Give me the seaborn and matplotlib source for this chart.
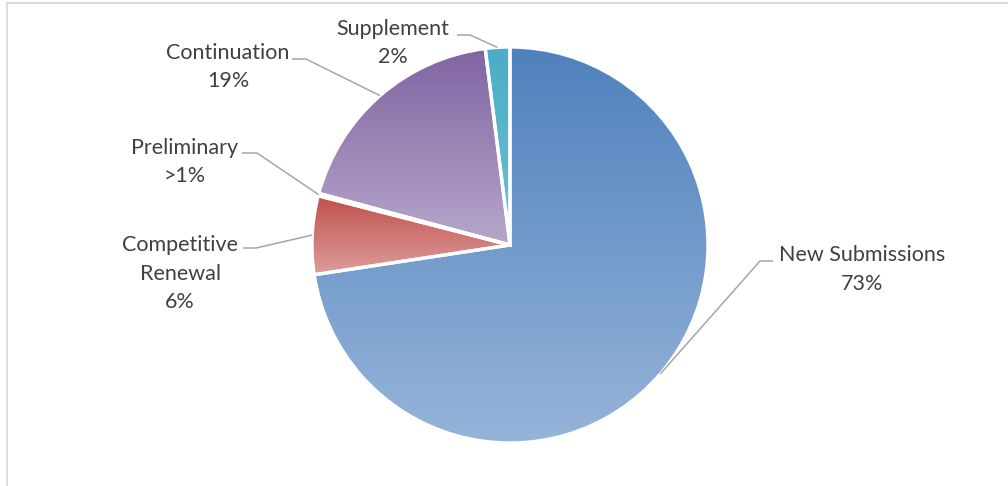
import numpy as np
import matplotlib
matplotlib.use("Agg")
import matplotlib.pyplot as plt
import seaborn as sns
from matplotlib.colors import to_rgb
from matplotlib.lines import Line2D

# ---------------- data ----------------
categories = ["New Submissions", "Competitive Renewal", "Preliminary", "Continuation", "Supplement"]
values = [72.6, 6.4, 0.2, 18.8, 2.0]
label_lines = [["New Submissions", "73%"],
               ["Competitive", "Renewal", "6%"],
               ["Preliminary", ">1%"],
               ["Continuation", "19%"],
               ["Supplement", "2%"]]
top_colors = ["#4F81BD", "#C0504D", "#9BBB59", "#8064A2", "#4BACC6"]
bottom_colors = ["#96B4D9", "#DE9E9C", "#C3D69B", "#B6A7CA", "#6CC0D5"]

# ---------------- layout (pixels, y down) ----------------
W, H = 1008, 486
CX, CY, R = 510, 245, 198
# first-line baseline position of each label (x centre, y baseline)
label_pos = [(862, 261), (180, 251), (185, 154), (228, 59), (393, 35)]
line_step = 28.5
# leader elbow + end points (pixels)
leader_pts = [[(760, 261), (773, 261)],
              [(256, 248), (243, 248)],
              [(257, 153), (242, 153)],
              [(306, 59), (292, 59)],
              [(470, 35), (457, 35)]]

sns.set_theme(style="white")
plt.rcParams['font.family'] = ['Lato', 'DejaVu Sans']

fig = plt.figure(figsize=(W / 100, H / 100), dpi=100)
fig.patch.set_facecolor("white")
ax = fig.add_axes([0, 0, 1, 1])


def fy(y):
    return H - y


wedges, _ = ax.pie(values, startangle=90, counterclock=False,
                   center=(CX, fy(CY)), radius=R, frame=True,
                   wedgeprops=dict(edgecolor="white", linewidth=2.4))

for w, c_top, c_bot in zip(wedges, top_colors, bottom_colors):
    ang = np.radians(np.linspace(w.theta1, w.theta2, 200))
    xs = np.concatenate([[CX], CX + R * np.cos(ang)])
    ys = np.concatenate([[fy(CY)], fy(CY) + R * np.sin(ang)])
    t = np.linspace(0, 1, 256)[:, None, None]
    img = (1 - t) * np.array(to_rgb(c_top))[None, None, :] + t * np.array(to_rgb(c_bot))[None, None, :]
    im = ax.imshow(img, extent=(xs.min(), xs.max(), ys.min(), ys.max()),
                   origin="upper", aspect="auto", interpolation="bilinear", zorder=1)
    im.set_clip_path(w)
    w.set_facecolor("none")
    w.set_zorder(2)

line_col = "#A6A6A6"
for w, pts in zip(wedges, leader_pts):
    mid = np.radians((w.theta1 + w.theta2) / 2)
    sx, sy = CX + R * np.cos(mid), fy(CY) + R * np.sin(mid)
    xs = [sx] + [p[0] for p in pts]
    ys = [sy] + [fy(p[1]) for p in pts]
    ax.plot(xs, ys, color=line_col, lw=1.1, zorder=3, solid_capstyle="butt")

for lines, (lx, ly) in zip(label_lines, label_pos):
    for i, s in enumerate(lines):
        ax.text(lx, fy(ly + i * line_step), s, ha="center", va="baseline",
                fontsize=15.5, color="#404040", zorder=4)

ax.set_xlim(0, W)
ax.set_ylim(0, H)
ax.set_aspect("auto")
ax.axis("off")

# chart-area border (left and top edges visible)
fig.add_artist(Line2D([7 / W, 7 / W], [0, 1 - 3 / H], transform=fig.transFigure,
                      color="#D9D9D9", lw=1.3))
fig.add_artist(Line2D([7 / W, 1], [1 - 3 / H, 1 - 3 / H], transform=fig.transFigure,
                      color="#D9D9D9", lw=1.3))

fig.savefig("out.png", dpi=100, facecolor="white")
